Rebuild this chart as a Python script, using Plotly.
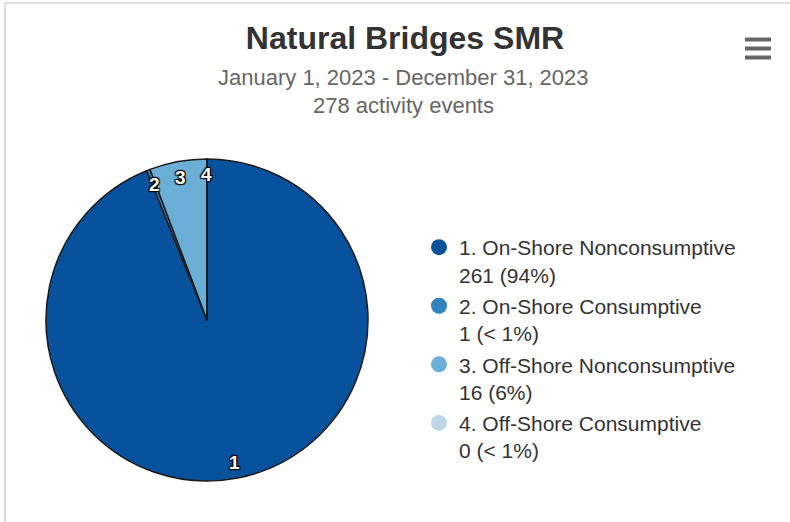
import math
import plotly.graph_objects as go

# ---- data ----
categories = ["On-Shore Nonconsumptive", "On-Shore Consumptive",
              "Off-Shore Nonconsumptive", "Off-Shore Consumptive"]
values = [261, 1, 16, 0]
pct_labels = ["94%", "< 1%", "6%", "< 1%"]
colors = ["#08519c", "#3182bd", "#6baed6", "#bdd7e7"]
title_text = "Natural Bridges SMR"
subtitle_lines = ["January 1, 2023 - December 31, 2023", "278 activity events"]

# ---- layout constants ----
W, H = 790, 522
CX, CY, R = 207, 320, 161
FONT = "Liberation Sans, Arial, sans-serif"

fig = go.Figure()

fig.add_trace(go.Pie(
    labels=[f"{i+1}. {c}" for i, c in enumerate(categories)],
    values=values,
    sort=False,
    direction="clockwise",
    rotation=0,
    marker=dict(colors=colors, line=dict(color="#1a1a1a", width=1.5)),
    textinfo="none",
    hoverinfo="label+value+percent",
    showlegend=False,
    domain=dict(x=[(CX - R) / W, (CX + R) / W], y=[1 - (CY + R) / H, 1 - (CY - R) / H]),
))

# legend entries with circle markers
for i, c in enumerate(categories):
    fig.add_trace(go.Scatter(
        x=[None], y=[None], mode="markers",
        marker=dict(symbol="circle", size=16, color=colors[i]),
        name=f"{i+1}. {c}<br>{values[i]} ({pct_labels[i]})",
        legendgroup=f"g{i}",
        showlegend=True,
    ))

# slice number labels placed at the mid-angle of each slice
total = sum(values)
cum = 0
annotations = []
LR = 145
for i, v in enumerate(values):
    mid = (cum + v / 2) / total * 2 * math.pi
    cum += v
    px = CX + LR * math.sin(mid)
    py = CY - LR * math.cos(mid)
    annotations.append(dict(
        x=px / W, y=1 - py / H, xref="paper", yref="paper",
        text=f"<b>{i+1}</b>", showarrow=False,
        font=dict(family=FONT, size=19, color="white",
                  shadow="1px 1px 1px #000, -1px -1px 1px #000, 1px -1px 1px #000, -1px 1px 1px #000"),
        xanchor="center", yanchor="middle",
    ))

annotations.append(dict(x=404 / W, y=1 - 77 / H, xref="paper", yref="paper",
                        text=subtitle_lines[0], showarrow=False,
                        font=dict(family=FONT, size=22, color="#666666"),
                        xanchor="center", yanchor="middle"))
annotations.append(dict(x=404 / W, y=1 - 105 / H, xref="paper", yref="paper",
                        text=subtitle_lines[1], showarrow=False,
                        font=dict(family=FONT, size=22, color="#666666"),
                        xanchor="center", yanchor="middle"))

shapes = [
    dict(type="line", xref="paper", yref="paper", x0=5 / W, x1=1, y0=1 - 3 / H, y1=1 - 3 / H,
         line=dict(color="#dddddd", width=2)),
    dict(type="line", xref="paper", yref="paper", x0=5 / W, x1=5 / W, y0=0, y1=1 - 3 / H,
         line=dict(color="#dddddd", width=2)),
]
for yy in (39.5, 48.5, 57.5):
    shapes.append(dict(type="line", xref="paper", yref="paper",
                       x0=745 / W, x1=771 / W, y0=1 - yy / H, y1=1 - yy / H,
                       line=dict(color="#666666", width=4)))

fig.update_layout(
    width=W, height=H,
    margin=dict(l=0, r=0, t=0, b=0),
    paper_bgcolor="white", plot_bgcolor="white",
    title=dict(text=f"<b>{title_text}</b>", x=405 / W, xanchor="center",
               y=1 - 38 / H, yanchor="middle", yref="container",
               font=dict(family=FONT, size=32, color="#333333")),
    xaxis=dict(visible=False), yaxis=dict(visible=False),
    legend=dict(x=419 / W, y=1 - 227 / H, xanchor="left", yanchor="top",
                font=dict(family=FONT, size=21, color="#333333"),
                valign="top", tracegroupgap=1, itemclick=False, itemdoubleclick=False,
                bgcolor="rgba(0,0,0,0)"),
    annotations=annotations,
    shapes=shapes,
    showlegend=True,
)

fig.write_html("out.html", config={"displayModeBar": False},
               post_script="document.body.style.margin='0';document.body.style.overflow='hidden';")
